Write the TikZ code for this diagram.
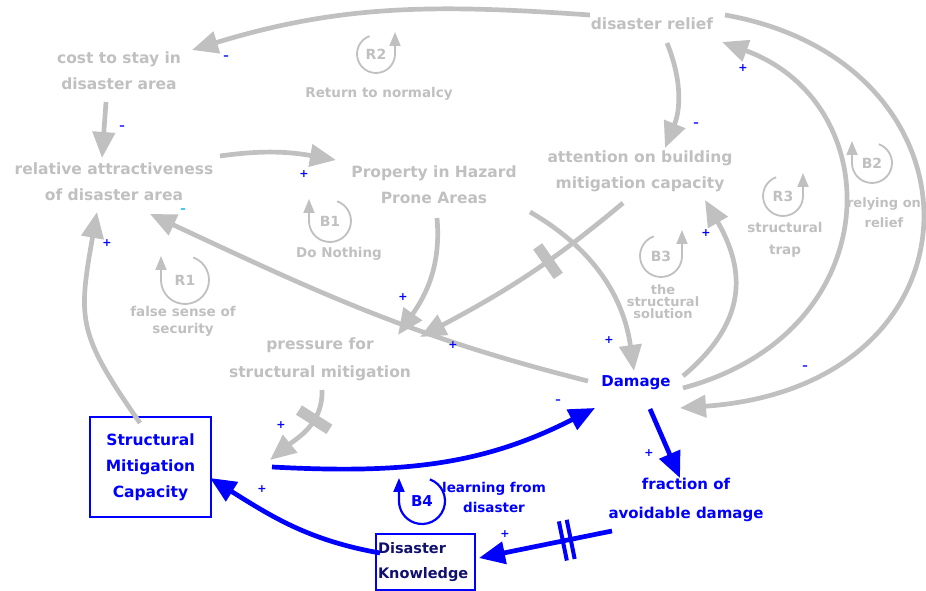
\documentclass[tikz,border=0pt]{standalone}
\usepackage{fontspec}
\setmainfont{DejaVu Sans}
\usetikzlibrary{arrows.meta,calc}

\definecolor{cldgray}{RGB}{192,192,192}
\definecolor{cldblue}{RGB}{0,0,255}
\definecolor{cldnavy}{RGB}{16,16,110}

\begin{document}
\begin{tikzpicture}[x=1pt, y=1pt,
	v/.style={text=cldgray, font=\bfseries\fontsize{15.5}{26}\selectfont, align=center, inner sep=1pt},
	bv/.style={v, text=cldblue},
	lp/.style={text=cldgray, font=\bfseries\fontsize{13.5}{17}\selectfont, align=center, inner sep=0pt},
	lpn/.style={lp, font=\bfseries\fontsize{14}{14}\selectfont},
	pol/.style={text=cldblue, font=\bfseries\fontsize{11}{11}\selectfont, inner sep=0pt},
	lk/.style={draw=cldgray, line width=4.7pt, -{Triangle[length=26pt,width=22pt]}},
	blk/.style={lk, draw=cldblue},
	lpc/.style={draw=cldgray, line width=1.8pt, -{Triangle[length=14pt,width=11pt]}},
	dly/.style={sloped, inner sep=0pt, text=cldgray},
	bdly/.style={sloped, inner sep=0pt, text=cldblue}]
	\useasboundingbox (0,0) rectangle (926,591);

	% variables
	\node[v] (cost) at (119,520) {cost to stay in\\disaster area};
	\node[v] (rel) at (114,409) {relative attractiveness\\of disaster area};
	\node[v] (prop) at (434,406) {Property in Hazard\\Prone Areas};
	\node[v] (relief) at (652,567) {disaster relief};
	\node[v] (attn) at (640,420) {attention on building\\mitigation capacity};
	\node[v, font=\bfseries\fontsize{15.5}{28}\selectfont] (press) at (320,232) {pressure for\\structural mitigation};
	\node[bv, font=\bfseries\fontsize{15}{26}\selectfont] (dmg) at (636,208) {Damage};
	\node[bv, font=\bfseries\fontsize{15}{29}\selectfont] (frac) at (686,91) {fraction of\\avoidable damage};
	\node[bv, draw=cldblue, line width=1.5pt, minimum width=121pt, minimum height=100pt] (smc) at (150.5,124) {Structural\\Mitigation\\Capacity};
	\node[v, text=cldnavy, draw=cldblue, line width=1.5pt, align=left, text width=95pt, inner xsep=2pt, minimum height=56pt, font=\bfseries\fontsize{14.5}{25}\selectfont] (dk) at (425.5,29) {Disaster\\Knowledge};

	% loops
	\node[lpn] (r2) at (376,537) {R2};
	\draw[lpc] ($(r2)+(110:19)$) arc[start angle=110, end angle=360, radius=19] -- ++(0,22);
	\node[lp] (r2t) at (379,497) {Return to normalcy};
	\node[lpn] (b1) at (330,370) {B1};
	\draw[lpc] ($(b1)+(70:21)$) arc[start angle=70, end angle=-180, radius=21] -- ++(0,22);
	\node[lp] (b1t) at (339,337) {Do Nothing};
	\node[lpn] (r1) at (185,311) {R1};
	\draw[lpc] ($(r1)+(70:24)$) arc[start angle=70, end angle=-180, radius=24] -- ++(0,24);
	\node[lp] (r1t) at (183,270) {false sense of\\security};
	\node[lpn] (b3) at (661,335) {B3};
	\draw[lpc] ($(b3)+(110:21)$) arc[start angle=110, end angle=360, radius=21] -- ++(0,26);
	\node[lp, font=\bfseries\fontsize{13}{12}\selectfont] (b3t) at (663,289) {the\\structural\\solution};
	\node[lpn] (r3) at (783,395) {R3};
	\draw[lpc] ($(r3)+(110:20)$) arc[start angle=110, end angle=360, radius=20] -- ++(0,23);
	\node[lp, font=\bfseries\fontsize{13.5}{22}\selectfont] (r3t) at (785,351) {structural\\trap};
	\node[lpn] (b2) at (872,428) {B2};
	\draw[lpc] ($(b2)+(70:20)$) arc[start angle=70, end angle=-180, radius=20] -- ++(0,22);
	\node[lp, font=\bfseries\fontsize{13}{20}\selectfont] (b2t) at (884,378) {relying on\\relief};
	\node[lpn, text=cldblue, font=\bfseries\fontsize{15}{15}\selectfont] (b4) at (422,90) {B4};
	\draw[lpc, draw=cldblue, line width=2.2pt] ($(b4)+(70:23)$) arc[start angle=70, end angle=-180, radius=23] -- ++(0,23);
	\node[lp, text=cldblue, font=\bfseries\fontsize{13.5}{20}\selectfont] (b4t) at (494,94) {learning from\\disaster};

	% links
	\draw[lk] ($(relief)+(-62,9)$) to[out=176, in=17] ($(cost)+(73,21)$);
	\draw[lk] ($(cost)+(-13,-31)$) -- ($(rel)+(-12,24)$);
	\draw[lk] ($(rel)+(106,26)$) to[out=8, in=170] ($(prop)+(-98,25)$);
	\draw[lk] ($(prop)+(3,-33)$) to[out=-85, in=55] ($(press)+(78,24)$);
	\draw[lk] ($(attn)+(-17,-32)$) to[out=220, in=28] node[dly, pos=0.38] (d1) {\rule[-18pt]{11pt}{36pt}} ($(press)+(100,22)$);
	\draw[lk] ($(prop)+(96,-27)$) to[out=-30, in=98] ($(dmg)+(-2,12)$);
	\draw[lk] ($(dmg)+(-48,2)$) to[out=166, in=-25] ($(rel)+(36,-32)$);
	\draw[lk] ($(dmg)+(47,7)$) to[out=40, in=-60, looseness=1.2] ($(attn)+(65,-29)$);
	\draw[lk] ($(dmg)+(47,-5)$) to[out=15, in=-20, out distance=214pt, in distance=179pt] ($(relief)+(70,-18)$);
	\draw[lk] ($(relief)+(73,9)$) to[out=-10, in=4, out distance=273pt, in distance=314pt] ($(dmg)+(44,-25)$);
	\draw[lk] ($(relief)+(15,-19)$) to[out=-68, in=68] ($(attn)+(25,23)$);
	\draw[lk] ($(press)+(2,-31)$) to[out=-88, in=39] node[dly, pos=0.35] (d2) {\rule[-18pt]{11pt}{36pt}} ($(smc)+(119.5,7)$);
	\draw[lk] ($(smc)+(-10.5,44)$) to[out=125, in=-100, looseness=1.3] ($(rel)+(-17,-30)$);
	\draw[blk] ($(smc)+(121.5,0)$) to[out=-3, in=-153] ($(dmg)+(-41,-25)$);
	\draw[blk] ($(dmg)+(14,-26)$) -- ($(frac)+(-6,22)$);
	\draw[blk] ($(frac)+(-74,-31)$) -- node[bdly, pos=0.34] (d3) {\rule[-20pt]{4pt}{40pt}\hspace{4pt}\rule[-20pt]{4pt}{40pt}} ($(dk)+(53.5,4)$);
	\draw[blk] ($(dk)+(-45.5,9)$) to[out=170, in=-32] ($(smc)+(59.5,-11)$);

	% polarities
	\node[pol] (p1) at (226,533) {--};
	\node[pol] (p2) at (122,463) {--};
	\node[pol] (p3) at (304,417) {+};
	\node[pol] (p4) at (403,294) {+};
	\node[pol] (p5) at (453,246) {+};
	\node[pol] (p6) at (609,251) {+};
	\node[pol, text=cyan] (p7) at (183,380) {--};
	\node[pol] (p8) at (706,358) {+};
	\node[pol] (p9) at (743,523) {+};
	\node[pol] (p10) at (805,223) {--};
	\node[pol] (p11) at (696,466) {--};
	\node[pol] (p12) at (281,166) {+};
	\node[pol] (p13) at (107,348) {+};
	\node[pol] (p14) at (558,189) {--};
	\node[pol] (p15) at (649,138) {+};
	\node[pol] (p16) at (505,57) {+};
	\node[pol] (p17) at (262,102) {+};
\end{tikzpicture}
\end{document}
